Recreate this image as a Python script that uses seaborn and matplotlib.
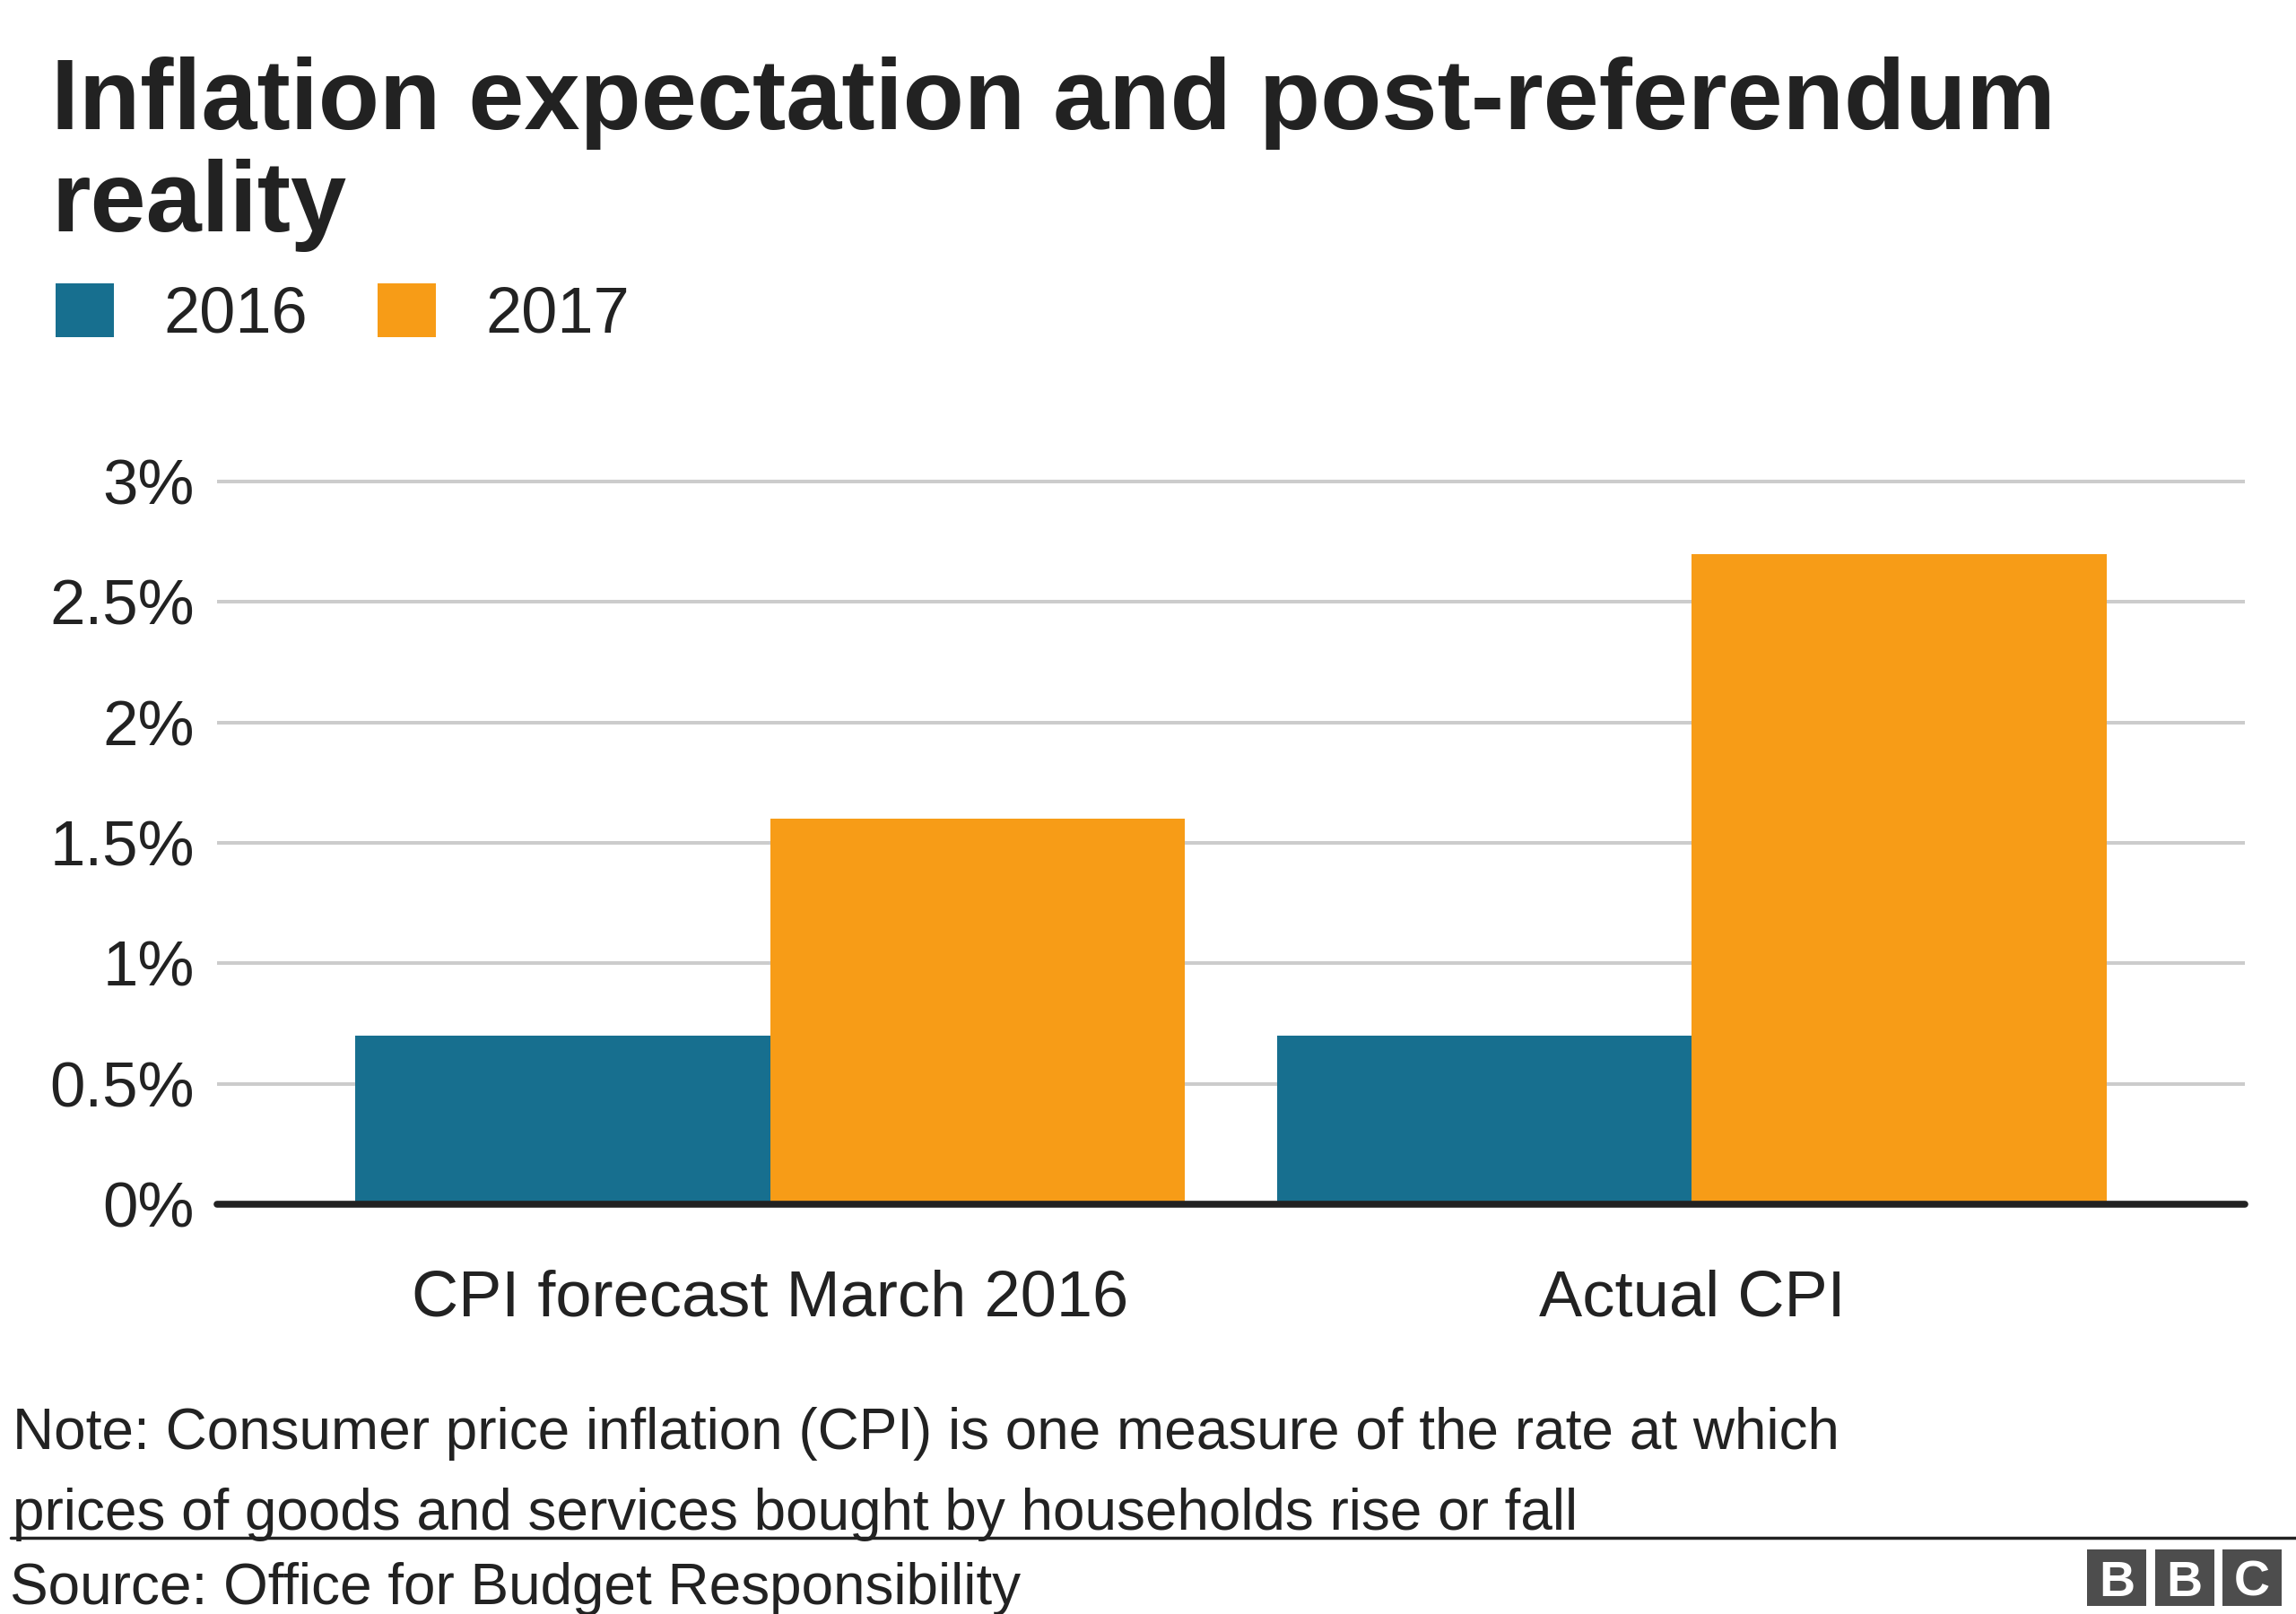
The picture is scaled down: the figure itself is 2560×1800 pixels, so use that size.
import matplotlib
matplotlib.use("Agg")
import matplotlib.pyplot as plt
import seaborn as sns
import pandas as pd
from matplotlib.patches import Rectangle
from matplotlib.lines import Line2D

# ---- data ----
categories = ["CPI forecast March 2016", "Actual CPI"]
years = ["2016", "2017"]
values_2016 = [0.7, 0.7]
values_2017 = [1.6, 2.7]
y_ticks = [0, 0.5, 1, 1.5, 2, 2.5, 3]
y_tick_labels = ["0%", "0.5%", "1%", "1.5%", "2%", "2.5%", "3%"]

title_lines = ["Inflation expectation and post-referendum", "reality"]
note_lines = ["Note: Consumer price inflation (CPI) is one measure of the rate at which",
              "prices of goods and services bought by households rise or fall"]
source_text = "Source: Office for Budget Responsibility"
logo_letters = ["B", "B", "C"]

colors = {"2016": "#176F8F", "2017": "#F79C17"}
TXT = "#222222"

df = pd.DataFrame({
    "category": categories * 2,
    "year": [years[0]] * len(categories) + [years[1]] * len(categories),
    "value": values_2016 + values_2017,
})

sns.set_theme(style="white")
plt.rcParams["font.family"] = ["Liberation Sans", "DejaVu Sans"]

W, H = 2560, 1800
fig = plt.figure(figsize=(25.6, 18), dpi=100)
fig.patch.set_facecolor("white")


def fx(px):
    return px / W


def fy(py):
    return 1 - py / H


y0_px, y3_px = 1343, 537
unit = (y0_px - y3_px) / 3
ymax = 3.1
top_px = y0_px - unit * ymax
ax = fig.add_axes([fx(242), fy(y0_px), fx(2503) - fx(242), (y0_px - top_px) / H])

sns.barplot(data=df, x="category", y="value", hue="year", order=categories,
            hue_order=years, palette=colors, width=0.9, gap=0, errorbar=None,
            linewidth=0, saturation=1, ax=ax)

ax.set_xlim(-0.6, 1.6)
ax.set_ylim(0, ymax)
ax.set_yticks(y_ticks)
ax.set_yticklabels(y_tick_labels)
ax.set_xlabel("")
ax.set_ylabel("")
for s in ax.spines.values():
    s.set_visible(False)
ax.yaxis.grid(True, color="#cccccc", linewidth=2.9)
ax.xaxis.grid(False)
ax.set_axisbelow(True)
ax.axhline(0, color=TXT, linewidth=5.5, zorder=5, clip_on=False)
ax.tick_params(axis="y", length=0, pad=18, labelsize=51, labelcolor=TXT)
ax.tick_params(axis="x", length=0, pad=52, labelsize=52, labelcolor=TXT)

sns.move_legend(ax, "center left", bbox_to_anchor=(fx(62), fy(351)),
                bbox_transform=fig.transFigure, ncol=2, frameon=False, title=None,
                fontsize=52, handlelength=0.9, handleheight=0.9,
                handletextpad=0.77, columnspacing=1.08, borderpad=0, borderaxespad=0)
for t in ax.get_legend().get_texts():
    t.set_color(TXT)

# title
for line, base in zip(title_lines, [144, 258]):
    fig.text(fx(57), fy(base), line, fontsize=80.5, fontweight="bold", color=TXT,
             va="baseline", ha="left")

# note
for line, base in zip(note_lines, [1616, 1706]):
    fig.text(fx(14), fy(base), line, fontsize=46, color=TXT, va="baseline", ha="left")

fig.add_artist(Line2D([fx(12), 1.0], [fy(1714.5), fy(1714.5)], color=TXT,
                      linewidth=2.5, transform=fig.transFigure))

fig.text(fx(11), fy(1789), source_text, fontsize=46, color=TXT, va="baseline", ha="left")

# BBC logo
box_w, box_h = 66, 63
for i, letter in enumerate(logo_letters):
    x0 = 2327 + i * 75.5
    fig.add_artist(Rectangle((fx(x0), fy(1791)), box_w / W, box_h / H,
                             transform=fig.transFigure, facecolor="#4d4d4d",
                             edgecolor="none"))
    fig.text(fx(x0 + box_w / 2), fy(1759.5), letter, fontsize=40, fontweight="bold",
             color="white", ha="center", va="center_baseline")

fig.savefig("out.png", dpi=100, facecolor="white")
